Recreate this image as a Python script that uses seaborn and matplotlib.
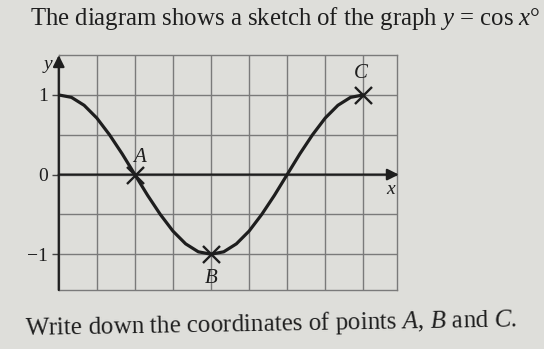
import pandas as pd
import matplotlib
matplotlib.use("Agg")
import matplotlib.pyplot as plt
import seaborn as sns

# Curve values, every 15 degrees
angles = [0, 15, 30, 45, 60, 75, 90, 105, 120, 135, 150, 165, 180,
          195, 210, 225, 240, 255, 270, 285, 300, 315, 330, 345, 360]
curve_y = [1.0, 0.97, 0.87, 0.71, 0.5, 0.26, 0.0, -0.26, -0.5, -0.71, -0.87, -0.97, -1.0,
           -0.97, -0.87, -0.71, -0.5, -0.26, 0.0, 0.26, 0.5, 0.71, 0.87, 0.97, 1.0]

# Marked points
point_names = ["A", "B", "C"]
point_x = [90, 180, 360]
point_y = [0, -1, 1]

x_grid = [45, 90, 135, 180, 225, 270, 315, 360]
y_grid = [-1, -0.5, 0, 0.5, 1]
y_tick_labels = ["\u22121", "0", "1"]
y_tick_vals = [-1, 0, 1]

title_text = "The diagram shows a sketch of the graph "
question_text = "Write down the coordinates of points $\\mathit{A}$, $\\mathit{B}$ and $\\mathit{C}$."


def main():
    sns.set_theme(style="white")
    plt.rcParams['font.family'] = ['Liberation Serif', 'DejaVu Serif']
    plt.rcParams['mathtext.fontset'] = 'custom'
    plt.rcParams['mathtext.it'] = 'Liberation Serif:italic'
    plt.rcParams['mathtext.rm'] = 'Liberation Serif'

    ink = '#1e1e1e'
    paper = '#dededa'
    fig = plt.figure(figsize=(5.44, 3.49), dpi=100, facecolor=paper)
    ax = fig.add_axes([0.108, 0.169, 0.622, 0.673])
    ax.set_facecolor(paper)

    curve = pd.DataFrame({'x': angles, 'y': curve_y})
    points = pd.DataFrame({'x': point_x, 'y': point_y, 'name': point_names})

    # grid
    for gx in x_grid:
        ax.axvline(gx, color='#7a7a7a', lw=1.0, zorder=1)
    for gy in y_grid:
        ax.axhline(gy, color='#7a7a7a', lw=1.0, zorder=1)
    for s in ax.spines.values():
        s.set_color('#7a7a7a')
        s.set_linewidth(1.0)

    ax.set_xlim(0, 400)
    ax.set_ylim(-1.45, 1.5)

    sns.lineplot(data=curve, x='x', y='y', color=ink, linewidth=2.3, ax=ax, zorder=4)
    sns.scatterplot(data=points, x='x', y='y', marker='x', s=150, color=ink,
                    linewidth=1.7, ax=ax, zorder=5)

    # axes with arrows
    ax.annotate('', xy=(402, 0), xytext=(0, 0), annotation_clip=False,
                arrowprops=dict(arrowstyle='-|>', color=ink, lw=1.6,
                                mutation_scale=17, shrinkA=0, shrinkB=0), zorder=3)
    ax.annotate('', xy=(0, 1.5), xytext=(0, -1.45), annotation_clip=False,
                arrowprops=dict(arrowstyle='-|>', color=ink, lw=1.6,
                                mutation_scale=17, shrinkA=0, shrinkB=0), zorder=3)

    ax.set_xticks([])
    ax.set_yticks(y_tick_vals)
    ax.set_yticklabels(y_tick_labels, fontsize=14, color=ink)
    ax.tick_params(axis='y', length=5, width=1, color='#444444', pad=3, left=True)
    ax.set_xlabel('')
    ax.set_ylabel('')

    ax.text(-8, 1.38, 'y', style='italic', fontsize=14, color=ink, ha='right', va='center')
    ax.text(392, -0.19, 'x', style='italic', fontsize=14, color=ink, ha='center', va='center')

    offsets = {'A': (5, 0.22, 'center'), 'B': (0, -0.3, 'center'), 'C': (-3, 0.27, 'center')}
    for _, r in points.iterrows():
        dx, dy, ha = offsets[r['name']]
        ax.text(r['x'] + dx, r['y'] + dy, r['name'], style='italic', fontsize=15,
                color=ink, ha=ha, va='center')

    fig.text(0.055, 0.948, title_text + "$y$ = cos $x$\u00b0", fontsize=17.8,
             color=ink, ha='left', va='center')
    fig.text(0.045, 0.072, question_text, fontsize=18, color=ink,
             ha='left', va='center', rotation=1.0)

    fig.savefig('out.png', dpi=100, facecolor=paper)


if __name__ == "__main__":
    main()
